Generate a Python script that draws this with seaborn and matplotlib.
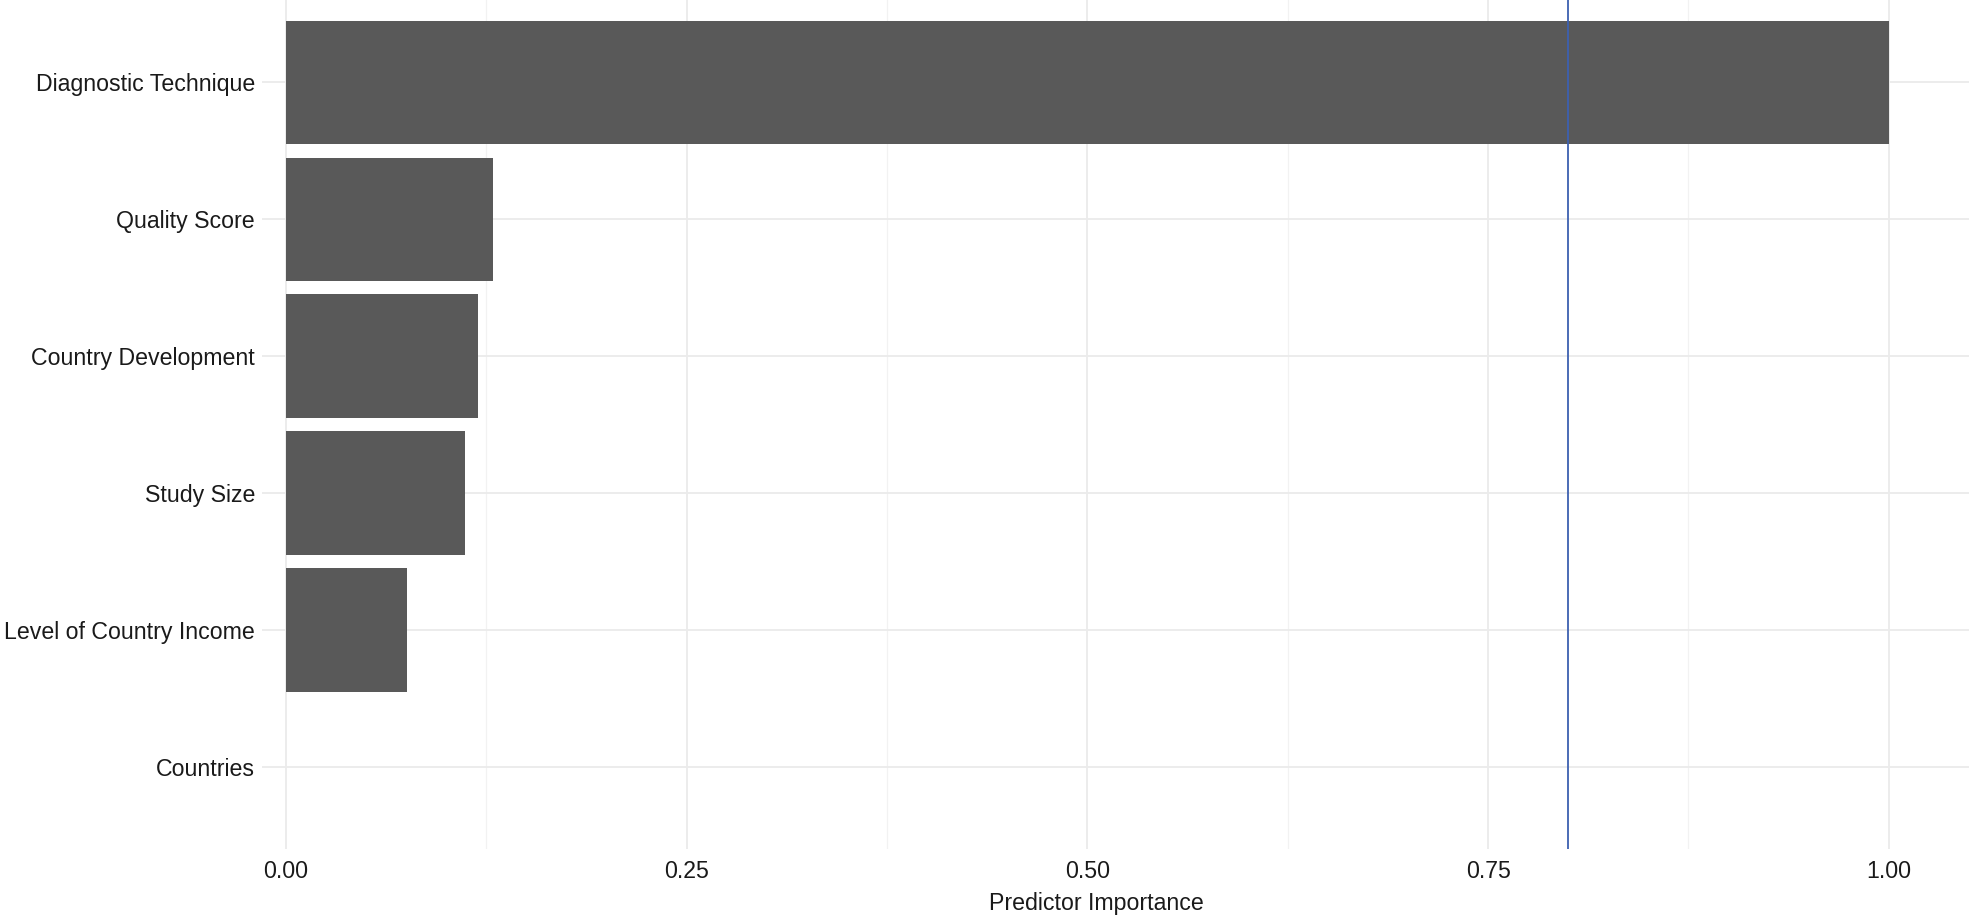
import numpy as np
import pandas as pd
import matplotlib
matplotlib.use("Agg")
import matplotlib.pyplot as plt
import seaborn as sns
from matplotlib.ticker import MultipleLocator

# Data
predictors = ["Diagnostic Technique", "Quality Score", "Country Development",
              "Study Size", "Level of Country Income", "Countries"]
importance = [1.0, 0.129, 0.120, 0.112, 0.0755, 0.0]
cutoff = 0.80

df = pd.DataFrame({"Predictor": predictors, "Importance": importance})

sns.set_style("white")
plt.rcParams["font.family"] = ["Liberation Sans", "DejaVu Sans"]

fig = plt.figure(figsize=(19.69, 9.16), dpi=100)
ax = fig.add_axes([0.133, 0.073, 0.867, 0.927])

sns.barplot(data=df, x="Importance", y="Predictor", orient="h", color="#595959",
            saturation=1, width=0.9, edgecolor="none", linewidth=0, ax=ax, zorder=2)

ax.axvline(cutoff, color="#3d60b0", linewidth=1.3, zorder=3)

ax.set_xlim(-0.015, 1.05)
ax.set_ylim(5.6, -0.6)
ax.xaxis.set_major_locator(MultipleLocator(0.25))
ax.xaxis.set_minor_locator(MultipleLocator(0.125))
ax.xaxis.set_major_formatter(matplotlib.ticker.FormatStrFormatter("%.2f"))
ax.grid(True, which="major", color="#ebebeb", linewidth=1.3, zorder=0)
ax.grid(True, which="minor", axis="x", color="#f2f2f2", linewidth=0.9, zorder=0)
ax.set_axisbelow(True)
for s in ax.spines.values():
    s.set_visible(False)

ax.tick_params(axis="both", which="both", length=0, labelsize=16.7, labelcolor="#1a1a1a")
ax.tick_params(axis="x", pad=8)
ax.tick_params(axis="y", pad=5)
ax.set_ylabel("")
ax.set_xlabel("Predictor Importance", fontsize=16.7, color="#1a1a1a")
ax.xaxis.set_label_coords(0.489, -0.05)

fig.savefig("out.png", dpi=100, facecolor="white")
